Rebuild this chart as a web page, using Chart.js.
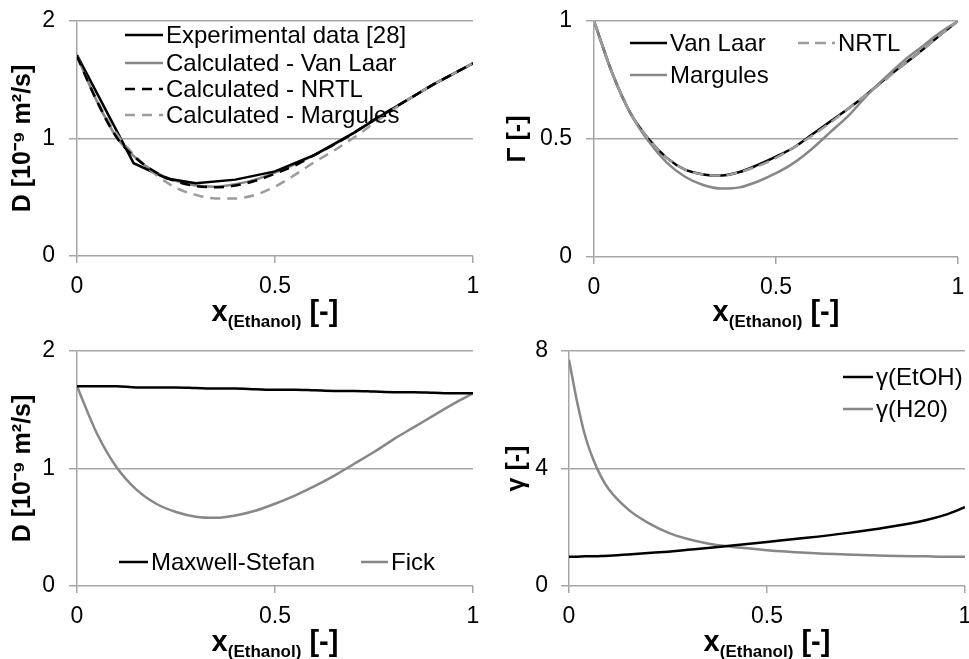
<!DOCTYPE html>
<html>
<head>
<meta charset="utf-8">
<script src="https://cdn.jsdelivr.net/npm/chart.js@4.4.0/dist/chart.umd.min.js"></script>
<style>
html, body { margin: 0; padding: 0; background: #fff; overflow: hidden; }
body { width: 969px; height: 659px; position: relative; font-family: "Liberation Sans", Arial, sans-serif; color: #000; }
.panel { position: absolute; }
.xt { position: absolute; text-align: center; font-weight: bold; font-size: 29px; line-height: 29px; white-space: nowrap; }
.xt span { font-size: 17px; position: relative; top: 6px; }
.leg { position: absolute; display: flex; align-items: center; font-size: 24px; line-height: 26px; height: 26px; white-space: nowrap; }
.leg svg { margin-right: 3px; }
</style>
</head>
<body>
<div class="panel" style="left:0;top:0"><canvas id="chartD1" width="484" height="330"></canvas></div>
<div class="panel" style="left:484px;top:0"><canvas id="chartGamma" width="485" height="330"></canvas></div>
<div class="panel" style="left:0;top:330px"><canvas id="chartD2" width="484" height="329"></canvas></div>
<div class="panel" style="left:484px;top:330px"><canvas id="chartAct" width="496" height="329"></canvas></div>

<div class="xt" style="left:77px;top:297px;width:396px">x<span>(Ethanol)</span> [-]</div>
<div class="xt" style="left:594px;top:297px;width:364px">x<span>(Ethanol)</span> [-]</div>
<div class="xt" style="left:77px;top:627px;width:396px">x<span>(Ethanol)</span> [-]</div>
<div class="xt" style="left:569px;top:627px;width:396px">x<span>(Ethanol)</span> [-]</div>

<script>
// data
var xCalc = [0, 0.05, 0.1, 0.15, 0.2, 0.25, 0.3, 0.35, 0.4, 0.45, 0.5, 0.55, 0.6, 0.65, 0.7, 0.75, 0.8, 0.85, 0.9, 0.95, 1];

// top left: diffusion coefficient
var xExp = [0, 0.143, 0.227, 0.3, 0.4, 0.5, 0.6, 0.7, 0.8, 0.9, 1];
var dExp = [1.71, 0.79, 0.66, 0.62, 0.65, 0.72, 0.86, 1.05, 1.26, 1.46, 1.64];
var dVanLaar = [1.70, 1.32, 1.01, 0.83, 0.71, 0.64, 0.60, 0.59, 0.61, 0.65, 0.71, 0.78, 0.86, 0.95, 1.05, 1.16, 1.26, 1.36, 1.46, 1.55, 1.64];
var dNRTL = [1.70, 1.32, 1.01, 0.83, 0.71, 0.635, 0.595, 0.585, 0.60, 0.64, 0.70, 0.77, 0.86, 0.95, 1.05, 1.16, 1.26, 1.36, 1.46, 1.55, 1.64];
var dMargules = [1.70, 1.33, 1.04, 0.84, 0.69, 0.58, 0.52, 0.49, 0.49, 0.52, 0.59, 0.69, 0.80, 0.90, 1.01, 1.13, 1.25, 1.36, 1.46, 1.55, 1.64];

// top right: thermodynamic factor
var gVanLaar = [1.0, 0.78, 0.61, 0.50, 0.42, 0.37, 0.35, 0.345, 0.36, 0.39, 0.425, 0.465, 0.52, 0.575, 0.63, 0.69, 0.755, 0.815, 0.875, 0.94, 1.0];
var gNRTL = [1.0, 0.78, 0.61, 0.50, 0.42, 0.37, 0.35, 0.345, 0.36, 0.385, 0.42, 0.465, 0.515, 0.57, 0.63, 0.69, 0.75, 0.815, 0.875, 0.94, 1.0];
var gMargules = [1.0, 0.78, 0.61, 0.49, 0.40, 0.34, 0.305, 0.29, 0.295, 0.32, 0.355, 0.40, 0.46, 0.53, 0.60, 0.685, 0.76, 0.83, 0.89, 0.95, 1.0];

// bottom left: Maxwell-Stefan vs Fick
var dMS = [1.70, 1.70, 1.70, 1.69, 1.69, 1.69, 1.685, 1.68, 1.68, 1.675, 1.67, 1.67, 1.665, 1.66, 1.66, 1.655, 1.65, 1.65, 1.645, 1.64, 1.64];
var dFick = [1.70, 1.30, 1.01, 0.82, 0.70, 0.63, 0.59, 0.58, 0.60, 0.64, 0.70, 0.77, 0.85, 0.94, 1.04, 1.14, 1.25, 1.35, 1.45, 1.55, 1.64];

// bottom right: activity coefficients
var xAct = [0, 0.02, 0.04, 0.06, 0.08, 0.1, 0.15, 0.2, 0.25, 0.3, 0.35, 0.4, 0.5, 0.6, 0.7, 0.8, 0.9, 0.95, 1];
var actEtOH = [1.0, 1.0, 1.01, 1.01, 1.02, 1.03, 1.07, 1.12, 1.17, 1.23, 1.29, 1.36, 1.50, 1.64, 1.80, 1.99, 2.24, 2.42, 2.68];
var actH2O = [7.7, 6.3, 5.15, 4.35, 3.75, 3.3, 2.6, 2.15, 1.82, 1.6, 1.45, 1.35, 1.22, 1.13, 1.07, 1.03, 1.01, 1.0, 1.0];

var FONT = '"Liberation Sans", Arial, sans-serif';
var GRID = '#a6a6a6';
var DARK = '#000000';
var GRAY = '#878787';
var LIGHT = '#9c9c9c';

function pts(xs, ys) {
  return xs.map(function (x, i) { return { x: x, y: ys[i] }; });
}

// "1" not "1.0", like the original axes
function num(v) {
  return String(Math.round(v * 100) / 100);
}

function line(label, xs, ys, color, dash, order, straight) {
  return {
    label: label,
    data: pts(xs, ys),
    borderColor: color,
    borderWidth: 2.5,
    borderDash: dash || [],
    pointRadius: 0,
    fill: false,
    order: order,
    tension: 0,
    cubicInterpolationMode: straight ? 'default' : 'monotone'
  };
}

function axes(yMax, yStep, yTitle, yW, tPad, tickPad, xH) {
  return {
    x: {
      type: 'linear', min: 0, max: 1,
      ticks: { stepSize: 0.5, color: '#000', font: { family: FONT, size: 23 }, padding: 10, maxRotation: 0, callback: num },
      grid: { drawOnChartArea: false, color: GRID, lineWidth: 1.5, tickLength: 7 },
      border: { display: false },
      // fixed size, and no extra room for the end labels
      afterFit: function (s) { s.height = xH; s.paddingLeft = 0; s.paddingRight = 0; }
    },
    y: {
      min: 0, max: yMax,
      ticks: { stepSize: yStep, color: '#000', font: { family: FONT, size: 23 }, padding: tickPad, callback: num },
      grid: { color: GRID, lineWidth: 1.5, tickLength: 8 },
      border: { color: GRID, width: 1.5 },
      title: { display: true, text: yTitle, color: '#000', font: { family: FONT, size: 25, weight: 'bold' }, padding: { top: tPad, bottom: 0 } },
      afterFit: function (s) { s.width = yW; s.paddingTop = 0; s.paddingBottom = 0; }
    }
  };
}

function makeChart(id, datasets, scales, pad) {
  return new Chart(document.getElementById(id), {
    type: 'line',
    data: { datasets: datasets },
    options: {
      responsive: false,
      animation: false,
      layout: { padding: pad },
      scales: scales,
      plugins: { legend: { display: false }, tooltip: { enabled: false } }
    }
  });
}

//圖表1 - D
makeChart('chartD1', [
  line('Experimental data [28]', xExp, dExp, DARK, null, 2, true),
  line('Calculated - Van Laar', xCalc, dVanLaar, GRAY, null, 3),
  line('Calculated - NRTL', xCalc, dNRTL, DARK, [10, 7], 0),
  line('Calculated - Margules', xCalc, dMargules, LIGHT, [10, 7], 1)
], axes(2, 1, 'D [10⁻⁹ m²/s]', 77, 8, 14, 74), { top: 21, right: 11, left: 0, bottom: 0 });

//圖表2 - Gamma
makeChart('chartGamma', [
  line('Van Laar', xCalc, gVanLaar, DARK, null, 2),
  line('NRTL', xCalc, gNRTL, LIGHT, [11, 6], 0),
  line('Margules', xCalc, gMargules, GRAY, null, 1)
], axes(1, 0.5, 'Γ [-]', 110, 19, 14, 73), { top: 21, right: 11, left: 0, bottom: 0 });

//圖表3 - Maxwell-Stefan / Fick
makeChart('chartD2', [
  line('Maxwell-Stefan', xCalc, dMS, DARK, null, 0),
  line('Fick', xCalc, dFick, GRAY, null, 1)
], axes(2, 1, 'D [10⁻⁹ m²/s]', 77, 8, 14, 73), { top: 21, right: 11, left: 0, bottom: 0 });

//圖表4 - activity coefficients
makeChart('chartAct', [
  line('γ(EtOH)', xAct, actEtOH, DARK, null, 0),
  line('γ(H20)', xAct, actH2O, GRAY, null, 1)
], axes(8, 4, 'γ [-]', 85, 18, 13, 73), { top: 21, right: 15, left: 0, bottom: 0 });

// legends
function legend(x, yMid, w, label, color, dash) {
  var d = document.createElement('div');
  d.className = 'leg';
  d.style.left = x + 'px';
  d.style.top = (yMid - 13) + 'px';
  d.innerHTML = '<svg width="' + w + '" height="6"><line x1="0" y1="3" x2="' + w + '" y2="3" stroke="' + color +
    '" stroke-width="2.5"' + (dash ? ' stroke-dasharray="' + dash + '"' : '') + '/></svg>';
  d.appendChild(document.createTextNode(label));
  document.body.appendChild(d);
}

legend(125, 35, 38, 'Experimental data [28]', DARK);
legend(125, 62.5, 38, 'Calculated - Van Laar', GRAY);
legend(125, 88.5, 38, 'Calculated - NRTL', DARK, '10 7');
legend(125, 114.5, 38, 'Calculated - Margules', LIGHT, '10 7');

legend(630, 42.7, 37, 'Van Laar', DARK);
legend(798, 42.7, 37, 'NRTL', LIGHT, '11 6');
legend(630, 75, 37, 'Margules', GRAY);

legend(119, 562.3, 29, 'Maxwell-Stefan', DARK);
legend(361, 562.3, 27, 'Fick', GRAY);

legend(843, 376.7, 30, 'γ(EtOH)', DARK);
legend(843, 409, 30, 'γ(H20)', GRAY);
</script>
</body>
</html>
